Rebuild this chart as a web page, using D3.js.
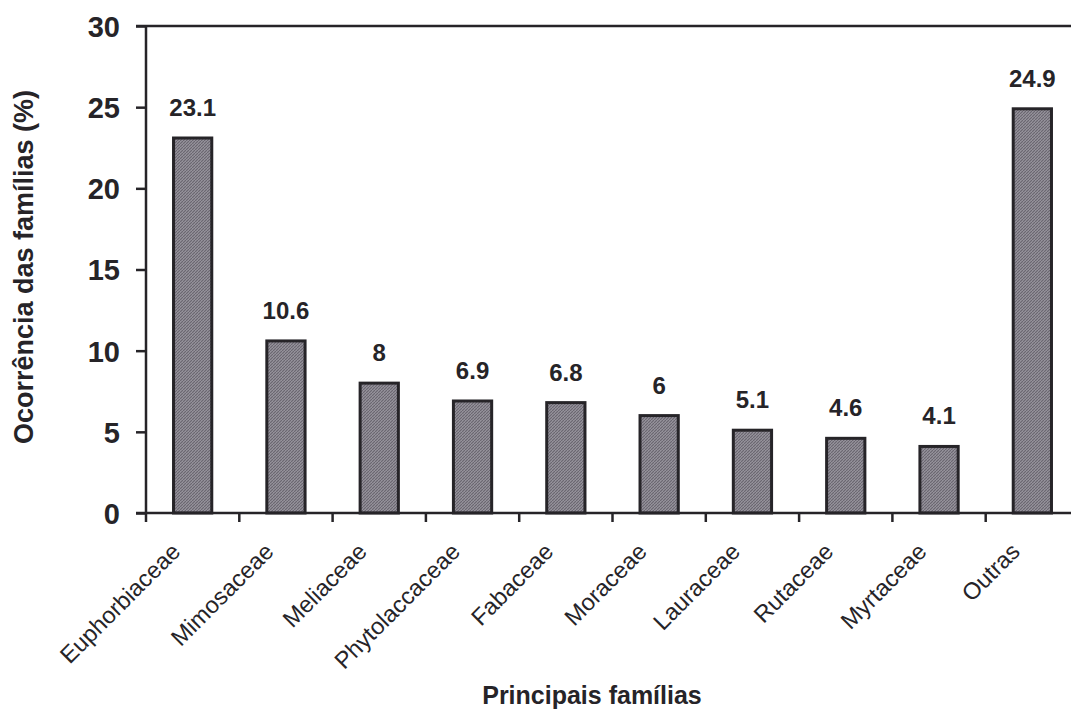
<!DOCTYPE html>
<html><head><meta charset="utf-8">
<script src="https://cdn.jsdelivr.net/npm/d3@7"></script>
<style>body{margin:0;background:#fff}svg{display:block}</style>
</head><body>
<svg id="c" width="1071" height="711"></svg>
<script>
const categories = ["Euphorbiaceae","Mimosaceae","Meliaceae","Phytolaccaceae","Fabaceae","Moraceae","Lauraceae","Rutaceae","Myrtaceae","Outras"];
const values = [23.1,10.6,8,6.9,6.8,6,5.1,4.6,4.1,24.9];
const valueLabels = ["23.1","10.6","8","6.9","6.8","6","5.1","4.6","4.1","24.9"];
const yTicks = [0,5,10,15,20,25,30];

(function(){
const svg = d3.select("#c");
const mLeft = 146, mTop = 26, mBottom = 513, step = 93.3;
const x = d3.scaleBand().domain(categories).range([mLeft, mLeft + step*categories.length]).paddingInner(0.59).paddingOuter(0.295);
const y = d3.scaleLinear().domain([0,30]).range([mBottom, mTop]);
const ink = "#262428";
const font = "Liberation Sans, Arial, sans-serif";

const defs = svg.append("defs");
const pat = defs.append("pattern").attr("id","tex").attr("width",3).attr("height",3).attr("patternUnits","userSpaceOnUse");
pat.append("rect").attr("width",3).attr("height",3).attr("fill","#96939c");
pat.append("path").attr("d","M0,3 L3,0").attr("stroke","#68646e").attr("stroke-width",1.1);

// bars
svg.append("g").selectAll("rect").data(categories).join("rect")
  .attr("x", d => x(d)).attr("width", x.bandwidth())
  .attr("y", (d,i) => y(values[i])).attr("height", (d,i) => mBottom - y(values[i]))
  .attr("fill","url(#tex)").attr("stroke", ink).attr("stroke-width", 3);

// value labels
svg.append("g").selectAll("text").data(categories).join("text")
  .attr("x", d => x(d) + x.bandwidth()/2)
  .attr("y", (d,i) => y(values[i]) - 22)
  .attr("text-anchor","middle")
  .attr("font-family",font).attr("font-weight","bold")
  .attr("font-size",24).attr("fill",ink)
  .text((d,i) => valueLabels[i]);

// y axis
const yAxis = d3.axisLeft(y).tickValues(yTicks).tickSize(10).tickPadding(16);
const gy = svg.append("g").attr("transform",`translate(${mLeft},0)`).call(yAxis);
gy.select(".domain").attr("stroke",ink).attr("stroke-width",2.5).attr("d",`M0,${mTop}V${mBottom}`);
gy.selectAll(".tick line").attr("stroke",ink).attr("stroke-width",2.5);
gy.selectAll(".tick text").attr("font-family",font).attr("font-weight","bold").attr("font-size",29).attr("fill",ink).attr("dy","0.36em");

// top border
svg.append("line").attr("x1",mLeft-10).attr("x2",1071).attr("y1",mTop).attr("y2",mTop).attr("stroke",ink).attr("stroke-width",2.5);
// x axis line
svg.append("line").attr("x1",mLeft-10).attr("x2",1071).attr("y1",mBottom).attr("y2",mBottom).attr("stroke",ink).attr("stroke-width",2.5);
// x ticks at band boundaries
const bounds = d3.range(categories.length+1).map(i => x.range()[0] + x.step()*i);
svg.append("g").selectAll("line").data(bounds).join("line")
  .attr("x1", d=>d).attr("x2", d=>d).attr("y1", mBottom).attr("y2", mBottom+9)
  .attr("stroke",ink).attr("stroke-width",2.5);

// x labels
svg.append("g").selectAll("text").data(categories).join("text")
  .attr("transform", d => `translate(${x(d)+x.bandwidth()/2-11},${mBottom+40}) rotate(-45)`)
  .attr("text-anchor","end")
  .attr("font-family",font).attr("font-size",23.5).attr("fill",ink)
  .text(d => d);

// axis titles
svg.append("text").attr("x",592).attr("y",704).attr("text-anchor","middle")
  .attr("font-family",font).attr("font-weight","bold").attr("font-size",25).attr("fill",ink)
  .text("Principais famílias");
svg.append("text").attr("transform","translate(33,267) rotate(-90)").attr("text-anchor","middle")
  .attr("font-family",font).attr("font-weight","bold").attr("font-size",27).attr("fill",ink)
  .text("Ocorrência das famílias (%)");
})();
</script>
</body></html>
